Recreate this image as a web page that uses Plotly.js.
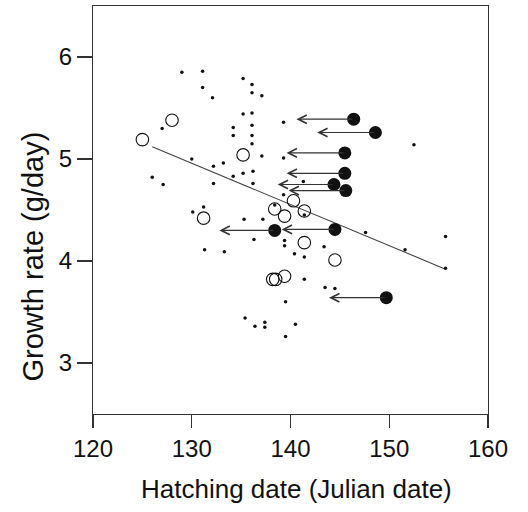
<!DOCTYPE html>
<html>
<head>
<meta charset="utf-8">
<script src="https://cdn.plot.ly/plotly-3.0.1.min.js"></script>
<style>html,body{margin:0;padding:0;background:#fff;}#chart{width:528px;height:512px;}</style>
</head>
<body>
<div id="chart"></div>
<script>
// Small dots: other nests (hatching date, growth rate)
const dotX = [129.0,131.1,131.1,132.1,135.2,136.1,136.1,137.1,135.2,136.1,134.2,136.1,134.2,136.1,136.1,127.0,139.3,137.1,139.3,130.0,132.2,133.2,126.0,127.1,132.2,134.2,135.2,136.2,136.2,141.3,139.3,130.1,131.2,135.3,137.2,136.3,139.4,139.4,131.3,133.3,140.4,141.4,141.4,139.5,135.4,136.4,137.4,137.4,140.5,139.5,147.6,155.7,151.6,155.7,143.4,143.5,144.5,152.5,138.4,141.4];
const dotY = [5.85,5.86,5.70,5.60,5.79,5.73,5.65,5.62,5.44,5.45,5.31,5.33,5.23,5.23,5.15,5.30,5.36,5.03,5.01,5.00,4.93,4.96,4.82,4.75,4.76,4.83,4.86,4.88,4.76,4.78,4.65,4.48,4.53,4.41,4.41,4.21,4.20,4.15,4.11,4.09,4.07,4.04,3.82,3.60,3.44,3.36,3.40,3.35,3.38,3.26,4.28,4.24,4.11,3.93,4.14,3.74,3.73,5.14,4.55,4.45];

// Open circles
const openX = [125.0,128.0,135.2,140.3,138.4,139.4,141.4,131.2,141.4,144.5,138.2,138.5,139.4];
const openY = [5.19,5.38,5.04,4.59,4.51,4.44,4.49,4.42,4.18,4.01,3.82,3.82,3.85];

// Filled circles (arrow tails) and arrow heads
const filledX = [146.4,148.6,145.5,145.5,144.4,145.6,144.5,138.4,149.7];
const filledY = [5.39,5.26,5.06,4.86,4.75,4.69,4.31,4.30,3.64];
const arrowToX = [140.6,142.7,139.6,139.6,138.7,139.8,139.1,132.8,143.9];

// Regression line
const fitX = [126.0,155.7];
const fitY = [5.12,3.92];

// Axis ticks
const xTicks = [120,130,140,150,160];
const yTicks = [3,4,5,6];

const FONT = 'Liberation Sans, Arial, sans-serif';
const INK = '#111';

const traces = [
  {x: fitX, y: fitY, mode: 'lines', line: {color: '#444', width: 1.1}, hoverinfo: 'skip'},
  {x: dotX, y: dotY, mode: 'markers', marker: {symbol: 'circle', size: 3.5, color: INK}},
  {x: openX, y: openY, mode: 'markers', marker: {symbol: 'circle-open', size: 12.5, color: INK, line: {width: 1.1}}},
  {x: filledX, y: filledY, mode: 'markers', marker: {symbol: 'circle', size: 13, color: INK}}
];

const annotations = filledX.map((fx, i) => ({
  x: arrowToX[i], y: filledY[i], ax: fx, ay: filledY[i],
  xref: 'x', yref: 'y', axref: 'x', ayref: 'y',
  text: '', showarrow: true, arrowhead: 5, arrowsize: 1.4, arrowwidth: 1.2, arrowcolor: '#333'
}));

annotations.push({
  text: 'Growth rate (g/day)', textangle: -90, showarrow: false,
  xref: 'paper', yref: 'paper', x: -0.153, y: 0.385, xanchor: 'center', yanchor: 'middle',
  font: {family: FONT, size: 29, color: INK}
});
annotations.push({
  text: 'Hatching date (Julian date)', showarrow: false,
  xref: 'paper', yref: 'paper', x: 0.516, y: -0.184, xanchor: 'center', yanchor: 'middle',
  font: {family: FONT, size: 26, color: INK}
});

const layout = {
  width: 528, height: 512,
  margin: {l: 93, r: 40, t: 6, b: 98},
  paper_bgcolor: '#fff', plot_bgcolor: '#fff',
  showlegend: false,
  font: {family: FONT, color: INK},
  xaxis: {
    range: [120, 160], tickvals: xTicks, ticktext: xTicks.map(String),
    showgrid: false, zeroline: false, showline: true, mirror: true,
    linecolor: '#333', linewidth: 1.2, ticks: 'outside', ticklen: 13, tickwidth: 1.2, tickcolor: '#333',
    tickfont: {family: FONT, size: 24, color: INK}
  },
  yaxis: {
    range: [2.5, 6.5], tickvals: yTicks, ticktext: yTicks.map(String),
    showgrid: false, zeroline: false, showline: true, mirror: true,
    linecolor: '#333', linewidth: 1.2, ticks: 'outside', ticklen: 15, tickwidth: 1.2, tickcolor: '#333',
    tickfont: {family: FONT, size: 24, color: INK}
  },
  annotations: annotations
};

Plotly.newPlot('chart', traces, layout, {displayModeBar: false, staticPlot: true});
</script>
</body>
</html>
